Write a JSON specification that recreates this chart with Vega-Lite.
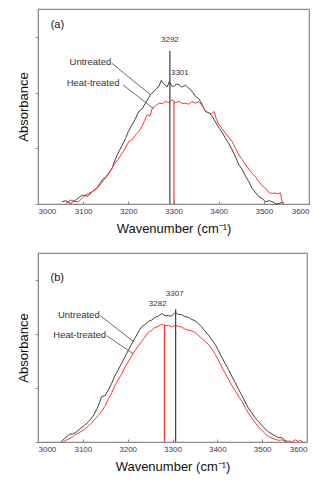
{
  "$schema": "https://vega.github.io/schema/vega-lite/v6.json",
  "padding": {"left": 16, "top": 8, "right": 4, "bottom": 4},
  "spacing": 16,
  "config": {
    "view": {"stroke": "#8a8a8a", "strokeWidth": 1.2},
    "font": "Liberation Sans",
    "axis": {"grid": false, "domainColor": "#8a8a8a", "tickColor": "#8a8a8a", "labelFont": "Liberation Sans", "titleFont": "Liberation Sans", "titleFontWeight": "normal", "titleColor": "#111"}
  },
  "datasets": {
    "a_curves": [
      {"wn": 3053, "ab": 0.04, "s": "Untreated"}, {"wn": 3061, "ab": 0.06, "s": "Untreated"}, {"wn": 3072, "ab": 0.01, "s": "Untreated"}, {"wn": 3085, "ab": 0.08, "s": "Untreated"}, {"wn": 3098, "ab": 0.16, "s": "Untreated"}, {"wn": 3110, "ab": 0.14, "s": "Untreated"}, {"wn": 3120, "ab": 0.22, "s": "Untreated"}, {"wn": 3132, "ab": 0.3, "s": "Untreated"}, {"wn": 3142, "ab": 0.43, "s": "Untreated"}, {"wn": 3152, "ab": 0.5, "s": "Untreated"}, {"wn": 3164, "ab": 0.64, "s": "Untreated"}, {"wn": 3172, "ab": 0.82, "s": "Untreated"}, {"wn": 3179, "ab": 0.94, "s": "Untreated"}, {"wn": 3186, "ab": 1.05, "s": "Untreated"}, {"wn": 3194, "ab": 1.18, "s": "Untreated"}, {"wn": 3200, "ab": 1.3, "s": "Untreated"}, {"wn": 3208, "ab": 1.42, "s": "Untreated"}, {"wn": 3215, "ab": 1.52, "s": "Untreated"}, {"wn": 3223, "ab": 1.66, "s": "Untreated"}, {"wn": 3230, "ab": 1.7, "s": "Untreated"}, {"wn": 3238, "ab": 1.81, "s": "Untreated"}, {"wn": 3249, "ab": 1.96, "s": "Untreated"}, {"wn": 3260, "ab": 2.05, "s": "Untreated"}, {"wn": 3268, "ab": 2.12, "s": "Untreated"}, {"wn": 3273, "ab": 2.22, "s": "Untreated"}, {"wn": 3278, "ab": 2.16, "s": "Untreated"}, {"wn": 3282, "ab": 2.14, "s": "Untreated"}, {"wn": 3286, "ab": 2.1, "s": "Untreated"}, {"wn": 3291, "ab": 2.2, "s": "Untreated"}, {"wn": 3296, "ab": 2.12, "s": "Untreated"}, {"wn": 3301, "ab": 2.11, "s": "Untreated"}, {"wn": 3306, "ab": 2.15, "s": "Untreated"}, {"wn": 3312, "ab": 2.14, "s": "Untreated"}, {"wn": 3318, "ab": 2.1, "s": "Untreated"}, {"wn": 3327, "ab": 2.13, "s": "Untreated"}, {"wn": 3332, "ab": 2.09, "s": "Untreated"}, {"wn": 3338, "ab": 2.05, "s": "Untreated"}, {"wn": 3343, "ab": 2.0, "s": "Untreated"}, {"wn": 3349, "ab": 1.93, "s": "Untreated"}, {"wn": 3355, "ab": 1.9, "s": "Untreated"}, {"wn": 3360, "ab": 1.84, "s": "Untreated"}, {"wn": 3366, "ab": 1.74, "s": "Untreated"}, {"wn": 3371, "ab": 1.66, "s": "Untreated"}, {"wn": 3380, "ab": 1.63, "s": "Untreated"}, {"wn": 3386, "ab": 1.57, "s": "Untreated"}, {"wn": 3393, "ab": 1.47, "s": "Untreated"}, {"wn": 3401, "ab": 1.36, "s": "Untreated"}, {"wn": 3408, "ab": 1.28, "s": "Untreated"}, {"wn": 3415, "ab": 1.18, "s": "Untreated"}, {"wn": 3422, "ab": 1.09, "s": "Untreated"}, {"wn": 3430, "ab": 0.97, "s": "Untreated"}, {"wn": 3437, "ab": 0.85, "s": "Untreated"}, {"wn": 3445, "ab": 0.7, "s": "Untreated"}, {"wn": 3452, "ab": 0.62, "s": "Untreated"}, {"wn": 3460, "ab": 0.49, "s": "Untreated"}, {"wn": 3467, "ab": 0.4, "s": "Untreated"}, {"wn": 3474, "ab": 0.28, "s": "Untreated"}, {"wn": 3482, "ab": 0.2, "s": "Untreated"}, {"wn": 3489, "ab": 0.13, "s": "Untreated"}, {"wn": 3496, "ab": 0.1, "s": "Untreated"}, {"wn": 3504, "ab": 0.04, "s": "Untreated"}, {"wn": 3512, "ab": 0.06, "s": "Untreated"}, {"wn": 3519, "ab": 0.04, "s": "Untreated"}, {"wn": 3527, "ab": 0.0, "s": "Untreated"}, {"wn": 3534, "ab": 0.01, "s": "Untreated"}, {"wn": 3540, "ab": 0.03, "s": "Untreated"}, {"wn": 3545, "ab": 0.01, "s": "Untreated"},
      {"wn": 3061, "ab": 0.01, "s": "Heat-treated"}, {"wn": 3072, "ab": 0.07, "s": "Heat-treated"}, {"wn": 3080, "ab": 0.05, "s": "Heat-treated"}, {"wn": 3090, "ab": 0.04, "s": "Heat-treated"}, {"wn": 3097, "ab": 0.1, "s": "Heat-treated"}, {"wn": 3105, "ab": 0.16, "s": "Heat-treated"}, {"wn": 3115, "ab": 0.2, "s": "Heat-treated"}, {"wn": 3127, "ab": 0.25, "s": "Heat-treated"}, {"wn": 3138, "ab": 0.35, "s": "Heat-treated"}, {"wn": 3149, "ab": 0.46, "s": "Heat-treated"}, {"wn": 3158, "ab": 0.56, "s": "Heat-treated"}, {"wn": 3168, "ab": 0.7, "s": "Heat-treated"}, {"wn": 3177, "ab": 0.8, "s": "Heat-treated"}, {"wn": 3186, "ab": 0.91, "s": "Heat-treated"}, {"wn": 3193, "ab": 1.0, "s": "Heat-treated"}, {"wn": 3201, "ab": 1.12, "s": "Heat-treated"}, {"wn": 3208, "ab": 1.15, "s": "Heat-treated"}, {"wn": 3216, "ab": 1.24, "s": "Heat-treated"}, {"wn": 3223, "ab": 1.3, "s": "Heat-treated"}, {"wn": 3230, "ab": 1.39, "s": "Heat-treated"}, {"wn": 3236, "ab": 1.5, "s": "Heat-treated"}, {"wn": 3242, "ab": 1.6, "s": "Heat-treated"}, {"wn": 3248, "ab": 1.58, "s": "Heat-treated"}, {"wn": 3253, "ab": 1.72, "s": "Heat-treated"}, {"wn": 3260, "ab": 1.76, "s": "Heat-treated"}, {"wn": 3268, "ab": 1.81, "s": "Heat-treated"}, {"wn": 3275, "ab": 1.8, "s": "Heat-treated"}, {"wn": 3282, "ab": 1.84, "s": "Heat-treated"}, {"wn": 3290, "ab": 1.82, "s": "Heat-treated"}, {"wn": 3297, "ab": 1.87, "s": "Heat-treated"}, {"wn": 3305, "ab": 1.82, "s": "Heat-treated"}, {"wn": 3312, "ab": 1.84, "s": "Heat-treated"}, {"wn": 3320, "ab": 1.8, "s": "Heat-treated"}, {"wn": 3327, "ab": 1.81, "s": "Heat-treated"}, {"wn": 3334, "ab": 1.79, "s": "Heat-treated"}, {"wn": 3341, "ab": 1.84, "s": "Heat-treated"}, {"wn": 3348, "ab": 1.81, "s": "Heat-treated"}, {"wn": 3356, "ab": 1.84, "s": "Heat-treated"}, {"wn": 3362, "ab": 1.78, "s": "Heat-treated"}, {"wn": 3367, "ab": 1.72, "s": "Heat-treated"}, {"wn": 3372, "ab": 1.66, "s": "Heat-treated"}, {"wn": 3378, "ab": 1.63, "s": "Heat-treated"}, {"wn": 3384, "ab": 1.62, "s": "Heat-treated"}, {"wn": 3390, "ab": 1.66, "s": "Heat-treated"}, {"wn": 3395, "ab": 1.52, "s": "Heat-treated"}, {"wn": 3401, "ab": 1.42, "s": "Heat-treated"}, {"wn": 3408, "ab": 1.35, "s": "Heat-treated"}, {"wn": 3415, "ab": 1.27, "s": "Heat-treated"}, {"wn": 3422, "ab": 1.2, "s": "Heat-treated"}, {"wn": 3430, "ab": 1.12, "s": "Heat-treated"}, {"wn": 3437, "ab": 1.0, "s": "Heat-treated"}, {"wn": 3445, "ab": 0.88, "s": "Heat-treated"}, {"wn": 3452, "ab": 0.8, "s": "Heat-treated"}, {"wn": 3460, "ab": 0.7, "s": "Heat-treated"}, {"wn": 3467, "ab": 0.62, "s": "Heat-treated"}, {"wn": 3474, "ab": 0.55, "s": "Heat-treated"}, {"wn": 3482, "ab": 0.48, "s": "Heat-treated"}, {"wn": 3489, "ab": 0.4, "s": "Heat-treated"}, {"wn": 3496, "ab": 0.33, "s": "Heat-treated"}, {"wn": 3504, "ab": 0.28, "s": "Heat-treated"}, {"wn": 3512, "ab": 0.2, "s": "Heat-treated"}, {"wn": 3519, "ab": 0.19, "s": "Heat-treated"}, {"wn": 3525, "ab": 0.2, "s": "Heat-treated"}, {"wn": 3530, "ab": 0.18, "s": "Heat-treated"}, {"wn": 3537, "ab": 0.2, "s": "Heat-treated"}, {"wn": 3539, "ab": 0.1, "s": "Heat-treated"}, {"wn": 3541, "ab": 0.0, "s": "Heat-treated"}
    ],
    "b_curves": [
      {"wn": 3051, "ab": 0.0, "s": "Untreated"}, {"wn": 3060, "ab": 0.07, "s": "Untreated"}, {"wn": 3071, "ab": 0.15, "s": "Untreated"}, {"wn": 3078, "ab": 0.15, "s": "Untreated"}, {"wn": 3086, "ab": 0.19, "s": "Untreated"}, {"wn": 3095, "ab": 0.25, "s": "Untreated"}, {"wn": 3104, "ab": 0.31, "s": "Untreated"}, {"wn": 3113, "ab": 0.38, "s": "Untreated"}, {"wn": 3123, "ab": 0.48, "s": "Untreated"}, {"wn": 3132, "ab": 0.62, "s": "Untreated"}, {"wn": 3142, "ab": 0.84, "s": "Untreated"}, {"wn": 3150, "ab": 0.86, "s": "Untreated"}, {"wn": 3156, "ab": 0.95, "s": "Untreated"}, {"wn": 3164, "ab": 1.08, "s": "Untreated"}, {"wn": 3171, "ab": 1.22, "s": "Untreated"}, {"wn": 3178, "ab": 1.32, "s": "Untreated"}, {"wn": 3186, "ab": 1.45, "s": "Untreated"}, {"wn": 3193, "ab": 1.56, "s": "Untreated"}, {"wn": 3201, "ab": 1.69, "s": "Untreated"}, {"wn": 3208, "ab": 1.8, "s": "Untreated"}, {"wn": 3216, "ab": 1.92, "s": "Untreated"}, {"wn": 3224, "ab": 2.04, "s": "Untreated"}, {"wn": 3231, "ab": 2.13, "s": "Untreated"}, {"wn": 3238, "ab": 2.17, "s": "Untreated"}, {"wn": 3246, "ab": 2.23, "s": "Untreated"}, {"wn": 3254, "ab": 2.26, "s": "Untreated"}, {"wn": 3261, "ab": 2.31, "s": "Untreated"}, {"wn": 3268, "ab": 2.33, "s": "Untreated"}, {"wn": 3276, "ab": 2.38, "s": "Untreated"}, {"wn": 3283, "ab": 2.34, "s": "Untreated"}, {"wn": 3291, "ab": 2.34, "s": "Untreated"}, {"wn": 3298, "ab": 2.33, "s": "Untreated"}, {"wn": 3306, "ab": 2.4, "s": "Untreated"}, {"wn": 3313, "ab": 2.36, "s": "Untreated"}, {"wn": 3320, "ab": 2.36, "s": "Untreated"}, {"wn": 3328, "ab": 2.32, "s": "Untreated"}, {"wn": 3335, "ab": 2.31, "s": "Untreated"}, {"wn": 3342, "ab": 2.27, "s": "Untreated"}, {"wn": 3350, "ab": 2.25, "s": "Untreated"}, {"wn": 3357, "ab": 2.2, "s": "Untreated"}, {"wn": 3365, "ab": 2.13, "s": "Untreated"}, {"wn": 3372, "ab": 2.06, "s": "Untreated"}, {"wn": 3380, "ab": 1.98, "s": "Untreated"}, {"wn": 3387, "ab": 1.9, "s": "Untreated"}, {"wn": 3395, "ab": 1.81, "s": "Untreated"}, {"wn": 3402, "ab": 1.7, "s": "Untreated"}, {"wn": 3410, "ab": 1.57, "s": "Untreated"}, {"wn": 3417, "ab": 1.46, "s": "Untreated"}, {"wn": 3425, "ab": 1.34, "s": "Untreated"}, {"wn": 3432, "ab": 1.22, "s": "Untreated"}, {"wn": 3440, "ab": 1.1, "s": "Untreated"}, {"wn": 3447, "ab": 0.98, "s": "Untreated"}, {"wn": 3455, "ab": 0.86, "s": "Untreated"}, {"wn": 3462, "ab": 0.74, "s": "Untreated"}, {"wn": 3469, "ab": 0.63, "s": "Untreated"}, {"wn": 3477, "ab": 0.54, "s": "Untreated"}, {"wn": 3484, "ab": 0.45, "s": "Untreated"}, {"wn": 3492, "ab": 0.38, "s": "Untreated"}, {"wn": 3499, "ab": 0.31, "s": "Untreated"}, {"wn": 3507, "ab": 0.24, "s": "Untreated"}, {"wn": 3514, "ab": 0.19, "s": "Untreated"}, {"wn": 3522, "ab": 0.15, "s": "Untreated"}, {"wn": 3529, "ab": 0.11, "s": "Untreated"}, {"wn": 3537, "ab": 0.08, "s": "Untreated"}, {"wn": 3544, "ab": 0.08, "s": "Untreated"}, {"wn": 3550, "ab": 0.04, "s": "Untreated"}, {"wn": 3555, "ab": 0.01, "s": "Untreated"},
      {"wn": 3056, "ab": 0.0, "s": "Heat-treated"}, {"wn": 3067, "ab": 0.05, "s": "Heat-treated"}, {"wn": 3075, "ab": 0.08, "s": "Heat-treated"}, {"wn": 3082, "ab": 0.13, "s": "Heat-treated"}, {"wn": 3091, "ab": 0.17, "s": "Heat-treated"}, {"wn": 3101, "ab": 0.22, "s": "Heat-treated"}, {"wn": 3110, "ab": 0.28, "s": "Heat-treated"}, {"wn": 3119, "ab": 0.35, "s": "Heat-treated"}, {"wn": 3130, "ab": 0.45, "s": "Heat-treated"}, {"wn": 3142, "ab": 0.57, "s": "Heat-treated"}, {"wn": 3149, "ab": 0.66, "s": "Heat-treated"}, {"wn": 3156, "ab": 0.78, "s": "Heat-treated"}, {"wn": 3164, "ab": 0.9, "s": "Heat-treated"}, {"wn": 3171, "ab": 1.04, "s": "Heat-treated"}, {"wn": 3178, "ab": 1.14, "s": "Heat-treated"}, {"wn": 3186, "ab": 1.25, "s": "Heat-treated"}, {"wn": 3193, "ab": 1.37, "s": "Heat-treated"}, {"wn": 3201, "ab": 1.48, "s": "Heat-treated"}, {"wn": 3208, "ab": 1.58, "s": "Heat-treated"}, {"wn": 3216, "ab": 1.69, "s": "Heat-treated"}, {"wn": 3224, "ab": 1.78, "s": "Heat-treated"}, {"wn": 3231, "ab": 1.86, "s": "Heat-treated"}, {"wn": 3238, "ab": 1.94, "s": "Heat-treated"}, {"wn": 3246, "ab": 2.03, "s": "Heat-treated"}, {"wn": 3254, "ab": 2.07, "s": "Heat-treated"}, {"wn": 3261, "ab": 2.12, "s": "Heat-treated"}, {"wn": 3268, "ab": 2.14, "s": "Heat-treated"}, {"wn": 3276, "ab": 2.18, "s": "Heat-treated"}, {"wn": 3283, "ab": 2.15, "s": "Heat-treated"}, {"wn": 3291, "ab": 2.16, "s": "Heat-treated"}, {"wn": 3298, "ab": 2.13, "s": "Heat-treated"}, {"wn": 3306, "ab": 2.16, "s": "Heat-treated"}, {"wn": 3313, "ab": 2.14, "s": "Heat-treated"}, {"wn": 3320, "ab": 2.13, "s": "Heat-treated"}, {"wn": 3328, "ab": 2.09, "s": "Heat-treated"}, {"wn": 3335, "ab": 2.07, "s": "Heat-treated"}, {"wn": 3342, "ab": 2.06, "s": "Heat-treated"}, {"wn": 3350, "ab": 2.03, "s": "Heat-treated"}, {"wn": 3357, "ab": 1.98, "s": "Heat-treated"}, {"wn": 3365, "ab": 1.92, "s": "Heat-treated"}, {"wn": 3372, "ab": 1.87, "s": "Heat-treated"}, {"wn": 3380, "ab": 1.81, "s": "Heat-treated"}, {"wn": 3387, "ab": 1.73, "s": "Heat-treated"}, {"wn": 3395, "ab": 1.63, "s": "Heat-treated"}, {"wn": 3402, "ab": 1.52, "s": "Heat-treated"}, {"wn": 3410, "ab": 1.39, "s": "Heat-treated"}, {"wn": 3417, "ab": 1.28, "s": "Heat-treated"}, {"wn": 3425, "ab": 1.16, "s": "Heat-treated"}, {"wn": 3432, "ab": 1.05, "s": "Heat-treated"}, {"wn": 3440, "ab": 0.95, "s": "Heat-treated"}, {"wn": 3447, "ab": 0.85, "s": "Heat-treated"}, {"wn": 3455, "ab": 0.75, "s": "Heat-treated"}, {"wn": 3462, "ab": 0.64, "s": "Heat-treated"}, {"wn": 3469, "ab": 0.54, "s": "Heat-treated"}, {"wn": 3477, "ab": 0.44, "s": "Heat-treated"}, {"wn": 3484, "ab": 0.36, "s": "Heat-treated"}, {"wn": 3492, "ab": 0.28, "s": "Heat-treated"}, {"wn": 3499, "ab": 0.22, "s": "Heat-treated"}, {"wn": 3507, "ab": 0.15, "s": "Heat-treated"}, {"wn": 3514, "ab": 0.1, "s": "Heat-treated"}, {"wn": 3522, "ab": 0.07, "s": "Heat-treated"}, {"wn": 3529, "ab": 0.05, "s": "Heat-treated"}, {"wn": 3537, "ab": 0.03, "s": "Heat-treated"}, {"wn": 3544, "ab": 0.04, "s": "Heat-treated"}, {"wn": 3552, "ab": 0.01, "s": "Heat-treated"}, {"wn": 3559, "ab": 0.02, "s": "Heat-treated"}, {"wn": 3566, "ab": 0.0, "s": "Heat-treated"}, {"wn": 3574, "ab": 0.04, "s": "Heat-treated"}, {"wn": 3580, "ab": 0.01, "s": "Heat-treated"}, {"wn": 3585, "ab": 0.03, "s": "Heat-treated"}, {"wn": 3592, "ab": 0.0, "s": "Heat-treated"}
    ],
    "a_peaks": [
      {"wn": 3292, "top": 2.75, "s": "Untreated", "label": "3292", "lx": 3292, "ly": 2.87},
      {"wn": 3301, "top": 1.85, "s": "Heat-treated", "label": "3301", "lx": 3314, "ly": 2.28}
    ],
    "b_peaks": [
      {"wn": 3282, "top": 2.17, "s": "Heat-treated", "label": "3282", "lx": 3267, "ly": 2.48},
      {"wn": 3307, "top": 2.46, "s": "Untreated", "label": "3307", "lx": 3305, "ly": 2.66}
    ],
    "a_notes": [
      {"tx": 3116, "ty": 2.54, "x1": 3163, "y1": 2.53, "x2": 3249, "y2": 1.96, "label": "Untreated"},
      {"tx": 3122, "ty": 2.17, "x1": 3188, "y1": 2.14, "x2": 3256, "y2": 1.71, "label": "Heat-treated"}
    ],
    "b_notes": [
      {"tx": 3091, "ty": 2.35, "x1": 3139, "y1": 2.34, "x2": 3213, "y2": 1.86, "label": "Untreated"},
      {"tx": 3093, "ty": 1.98, "x1": 3153, "y1": 1.97, "x2": 3213, "y2": 1.63, "label": "Heat-treated"}
    ],
    "a_tag": [{"x": 3028, "y": 3.22, "label": "(a)"}],
    "b_tag": [{"x": 3028, "y": 3.04, "label": "(b)"}]
  },
  "vconcat": [
    {
      "width": 271,
      "height": 195,
      "layer": [
        {
          "data": {"name": "a_curves"},
          "mark": {"type": "line", "strokeWidth": 1, "interpolate": "linear"},
          "encoding": {
            "x": {"field": "wn", "type": "quantitative", "scale": {"domain": [3000, 3600]}, "axis": {"values": [3000, 3100, 3200, 3300, 3400, 3500, 3600], "format": "d", "tickSize": -3, "labelFontSize": 8, "labelColor": "#3a3a5a", "labelPadding": 6, "title": "Wavenumber (cm⁻¹)", "titleFontSize": 13, "titlePadding": 7}},
            "y": {"field": "ab", "type": "quantitative", "scale": {"domain": [0, 3.5]}, "axis": {"values": [0, 1, 2, 3], "labels": false, "tickSize": 3, "title": "Absorbance", "titleFontSize": 13, "titlePadding": 4}},
            "color": {"field": "s", "type": "nominal", "scale": {"domain": ["Untreated", "Heat-treated"], "range": ["#404040", "#ff3333"]}, "legend": null}
          }
        },
        {
          "data": {"name": "a_peaks"},
          "mark": {"type": "rule", "strokeWidth": 1.2},
          "encoding": {
            "x": {"field": "wn", "type": "quantitative"},
            "y": {"field": "top", "type": "quantitative"},
            "y2": {"datum": 0},
            "color": {"field": "s", "type": "nominal", "legend": null}
          }
        },
        {
          "data": {"name": "a_peaks"},
          "mark": {"type": "text", "fontSize": 8, "color": "#333", "baseline": "bottom"},
          "encoding": {
            "x": {"field": "lx", "type": "quantitative"},
            "y": {"field": "ly", "type": "quantitative"},
            "text": {"field": "label"}
          }
        },
        {
          "data": {"name": "a_notes"},
          "mark": {"type": "rule", "strokeWidth": 0.8, "color": "#444"},
          "encoding": {
            "x": {"field": "x1", "type": "quantitative"},
            "y": {"field": "y1", "type": "quantitative"},
            "x2": {"field": "x2"},
            "y2": {"field": "y2"}
          }
        },
        {
          "data": {"name": "a_notes"},
          "mark": {"type": "text", "fontSize": 9.5, "color": "#333"},
          "encoding": {
            "x": {"field": "tx", "type": "quantitative"},
            "y": {"field": "ty", "type": "quantitative"},
            "text": {"field": "label"}
          }
        },
        {
          "data": {"name": "a_tag"},
          "mark": {"type": "text", "fontSize": 11, "color": "#111", "align": "left"},
          "encoding": {
            "x": {"field": "x", "type": "quantitative"},
            "y": {"field": "y", "type": "quantitative"},
            "text": {"field": "label"}
          }
        }
      ]
    },
    {
      "width": 269,
      "height": 189,
      "layer": [
        {
          "data": {"name": "b_curves"},
          "mark": {"type": "line", "strokeWidth": 1, "interpolate": "linear"},
          "encoding": {
            "x": {"field": "wn", "type": "quantitative", "scale": {"domain": [3000, 3600]}, "axis": {"values": [3000, 3100, 3200, 3300, 3400, 3500, 3600], "format": "d", "tickSize": -3, "labelFontSize": 8, "labelColor": "#3a3a5a", "labelPadding": 6, "title": "Wavenumber (cm⁻¹)", "titleFontSize": 13, "titlePadding": 7}},
            "y": {"field": "ab", "type": "quantitative", "scale": {"domain": [0, 3.33]}, "axis": {"values": [0, 1, 2, 3], "labels": false, "tickSize": 3, "title": "Absorbance", "titleFontSize": 13, "titlePadding": 4}},
            "color": {"field": "s", "type": "nominal", "scale": {"domain": ["Untreated", "Heat-treated"], "range": ["#404040", "#ff3333"]}, "legend": null}
          }
        },
        {
          "data": {"name": "b_peaks"},
          "mark": {"type": "rule", "strokeWidth": 1.2},
          "encoding": {
            "x": {"field": "wn", "type": "quantitative"},
            "y": {"field": "top", "type": "quantitative"},
            "y2": {"datum": 0},
            "color": {"field": "s", "type": "nominal", "legend": null}
          }
        },
        {
          "data": {"name": "b_peaks"},
          "mark": {"type": "text", "fontSize": 8, "color": "#333", "baseline": "bottom"},
          "encoding": {
            "x": {"field": "lx", "type": "quantitative"},
            "y": {"field": "ly", "type": "quantitative"},
            "text": {"field": "label"}
          }
        },
        {
          "data": {"name": "b_notes"},
          "mark": {"type": "rule", "strokeWidth": 0.8, "color": "#444"},
          "encoding": {
            "x": {"field": "x1", "type": "quantitative"},
            "y": {"field": "y1", "type": "quantitative"},
            "x2": {"field": "x2"},
            "y2": {"field": "y2"}
          }
        },
        {
          "data": {"name": "b_notes"},
          "mark": {"type": "text", "fontSize": 9.5, "color": "#333"},
          "encoding": {
            "x": {"field": "tx", "type": "quantitative"},
            "y": {"field": "ty", "type": "quantitative"},
            "text": {"field": "label"}
          }
        },
        {
          "data": {"name": "b_tag"},
          "mark": {"type": "text", "fontSize": 11, "color": "#111", "align": "left"},
          "encoding": {
            "x": {"field": "x", "type": "quantitative"},
            "y": {"field": "y", "type": "quantitative"},
            "text": {"field": "label"}
          }
        }
      ]
    }
  ]
}
